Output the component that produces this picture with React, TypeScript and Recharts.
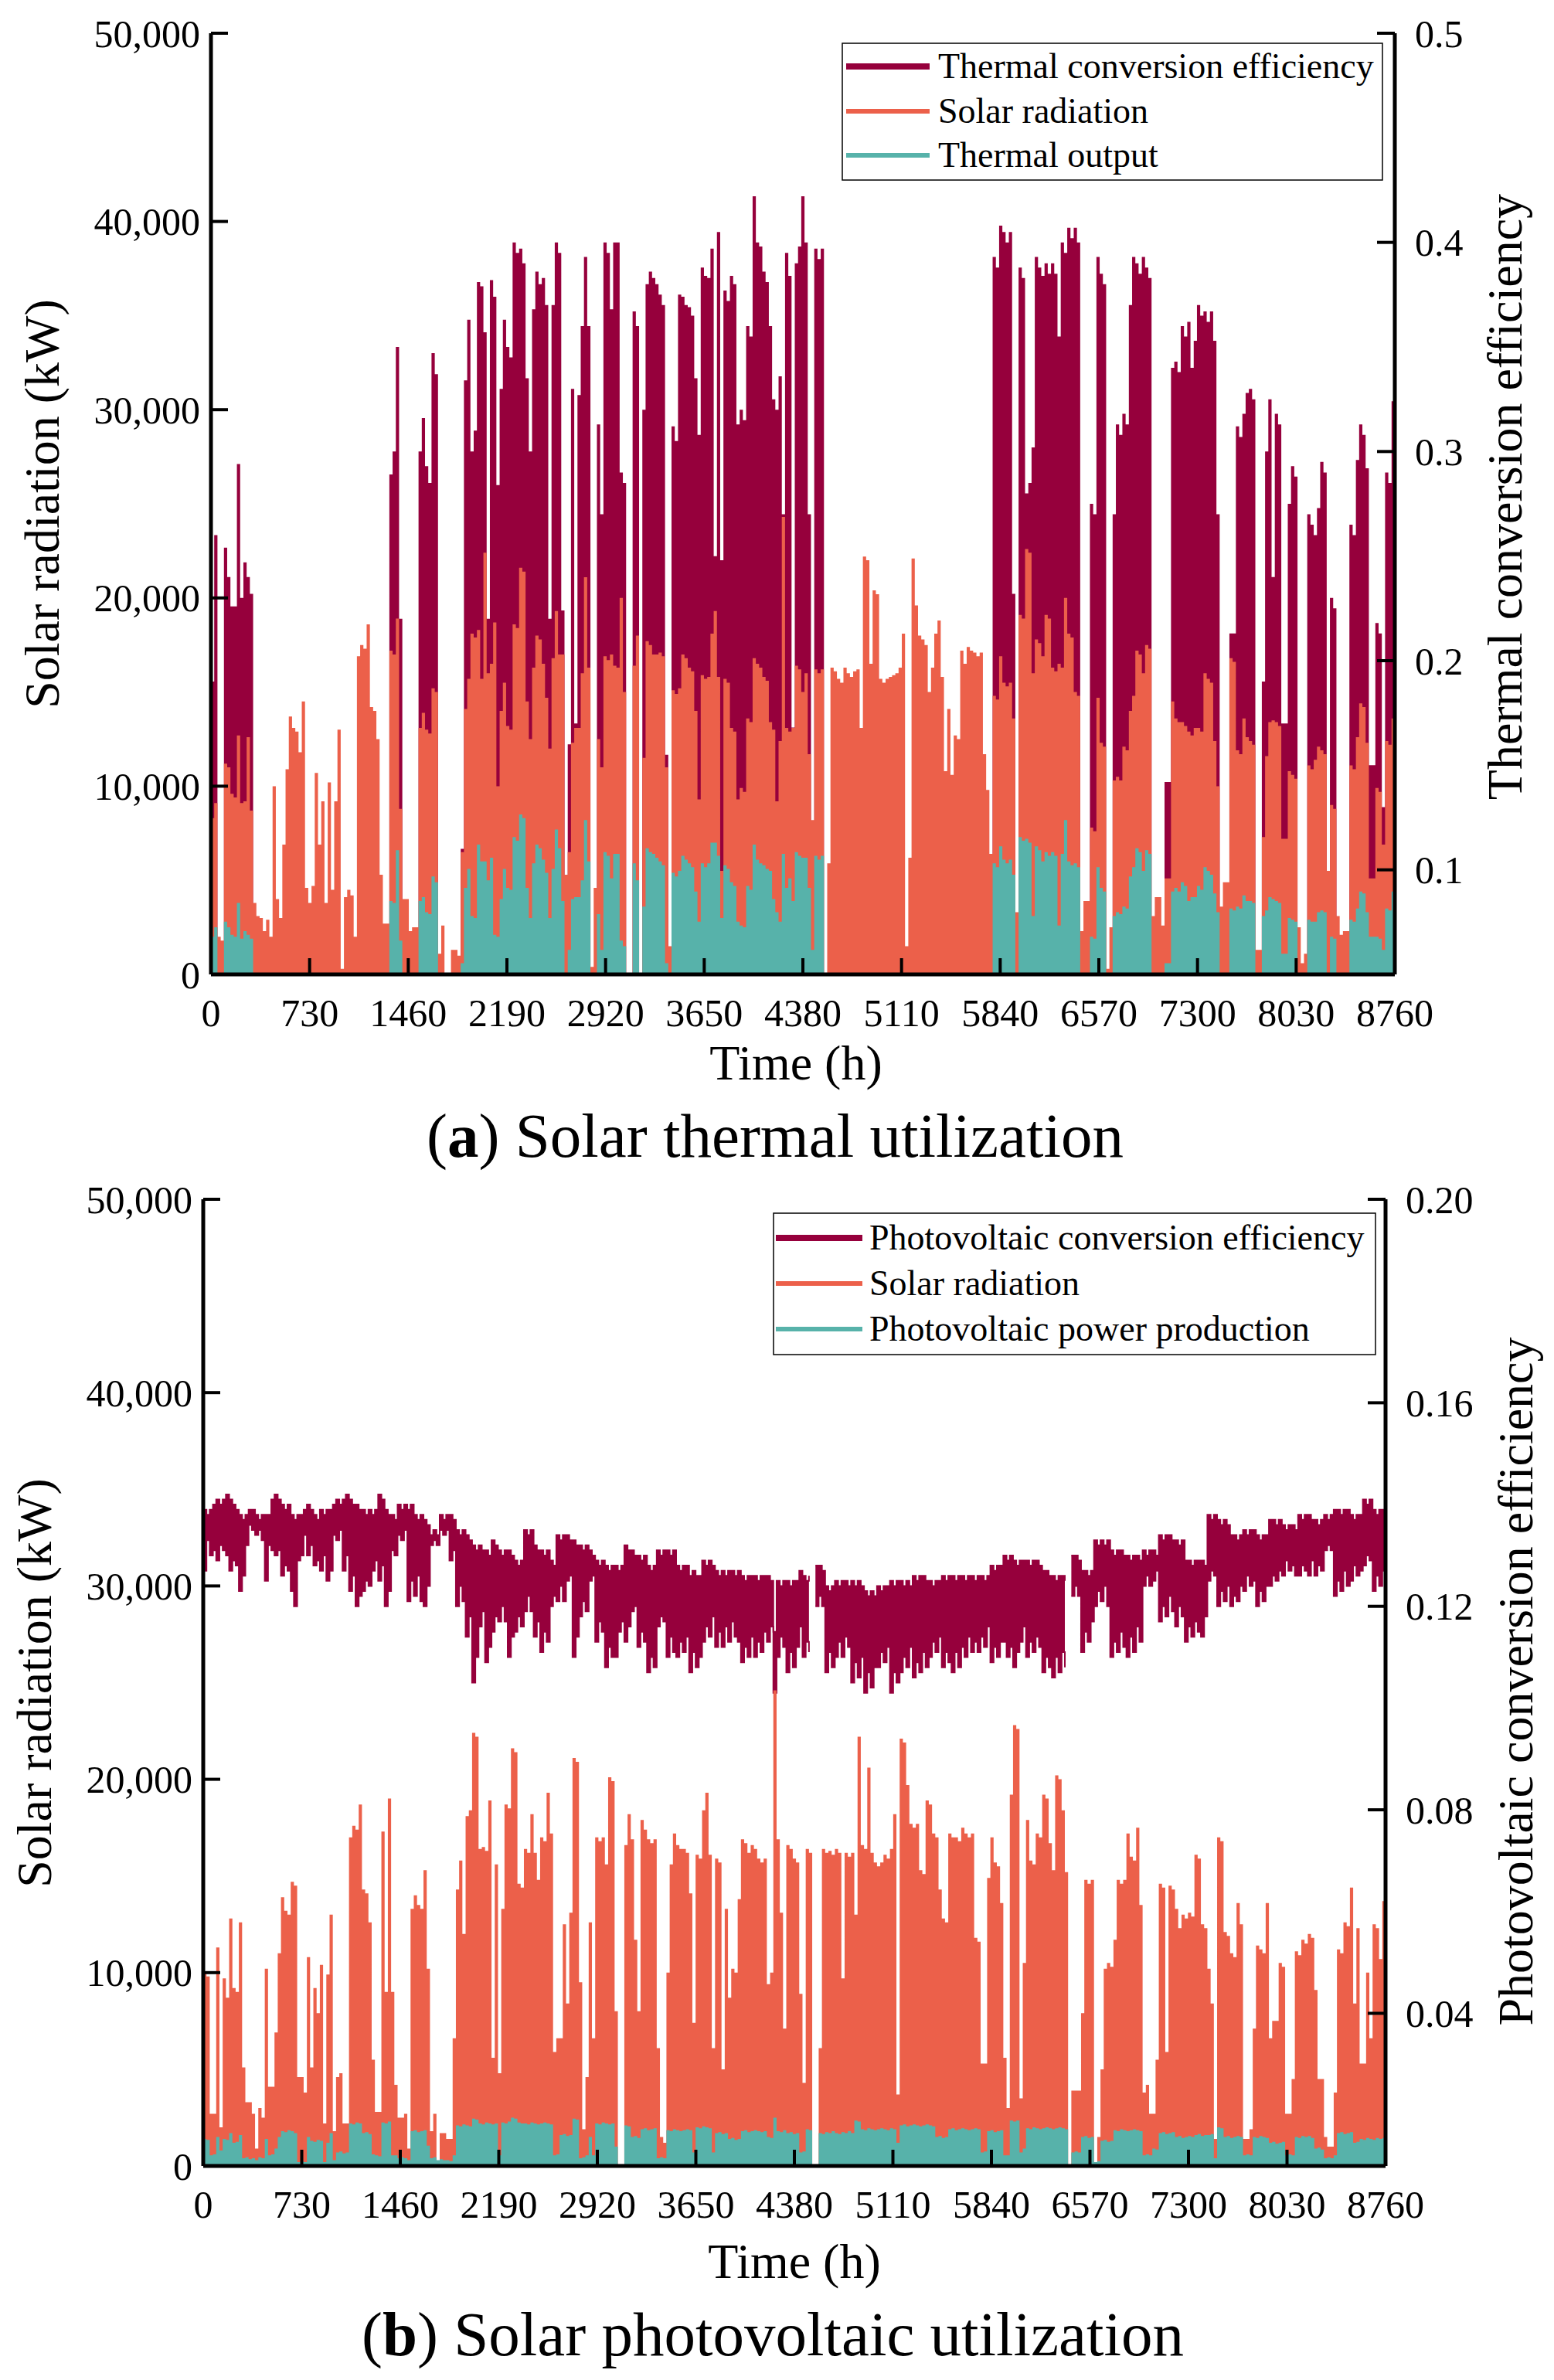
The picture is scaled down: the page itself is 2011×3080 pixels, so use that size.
import { Area, ComposedChart, XAxis, YAxis } from 'recharts'

const FONT = '"Liberation Serif", "Times New Roman", Times, serif'
const MAROON = '#96003C'
const ORANGE = '#EC604A'
const TEAL = '#57B2AA'
const AXIS = { stroke: '#000', strokeWidth: 5 }

const hourTicks = [0, 730, 1460, 2190, 2920, 3650, 4380, 5110, 5840, 6570, 7300, 8030, 8760]
const radiationTicks = [0, 10000, 20000, 30000, 40000, 50000]
const thermalEffTicks = [0.1, 0.2, 0.3, 0.4, 0.5]
const pvEffTicks = [0.04, 0.08, 0.12, 0.16, 0.2]

// (a) one value per day
const thermalEfficiency = [
  0.19, 0.26, 0, 0, 0.254, 0.24, 0.226, 0.226, 0.294, 0.23,
  0.247, 0.24, 0.232, 0, 0, 0, 0, 0, 0, 0,
  0, 0, 0, 0, 0, 0, 0, 0, 0, 0,
  0, 0, 0, 0, 0, 0, 0, 0, 0, 0,
  0, 0, 0, 0, 0, 0, 0, 0, 0, 0,
  0, 0, 0, 0, 0, 0.289, 0.3, 0.35, 0.22, 0,
  0, 0, 0, 0, 0.3, 0.316, 0.293, 0.285, 0.347, 0.337,
  0, 0, 0, 0, 0, 0, 0, 0.11, 0.334, 0.363,
  0.3, 0.31, 0.381, 0.379, 0.357, 0.22, 0.382, 0.374, 0.284, 0.33,
  0.363, 0.35, 0.345, 0.4, 0.395, 0.397, 0.39, 0.335, 0.3, 0.368,
  0.386, 0.38, 0.383, 0.37, 0.22, 0.37, 0.4, 0.395, 0.224, 0.06,
  0.16, 0.33, 0.17, 0.327, 0.36, 0.393, 0.36, 0, 0, 0.313,
  0.27, 0.4, 0.395, 0.368, 0.4, 0.4, 0.29, 0.285, 0, 0,
  0.367, 0.36, 0, 0.32, 0.38, 0.386, 0.383, 0.38, 0.375, 0.37,
  0.155, 0, 0.312, 0.305, 0.375, 0.374, 0.37, 0.369, 0.365, 0.335,
  0.308, 0.388, 0.384, 0.383, 0.397, 0.25, 0.405, 0.248, 0.377, 0.372,
  0.384, 0.38, 0.313, 0.32, 0.315, 0.36, 0.355, 0.422, 0.4, 0.398,
  0.386, 0.381, 0.36, 0.325, 0.32, 0.336, 0.27, 0.395, 0.384, 0.168,
  0.39, 0.398, 0.422, 0.4, 0.27, 0.12, 0.397, 0.392, 0.397, 0,
  0, 0, 0, 0, 0, 0, 0, 0, 0, 0,
  0, 0, 0, 0, 0, 0, 0, 0, 0, 0,
  0, 0, 0, 0, 0, 0, 0, 0, 0, 0,
  0, 0, 0, 0, 0, 0, 0, 0, 0, 0,
  0, 0, 0, 0, 0, 0, 0, 0, 0, 0,
  0, 0.393, 0.388, 0.408, 0.405, 0.4, 0.405, 0.232, 0, 0.388,
  0.383, 0.28, 0.285, 0.302, 0.393, 0.388, 0.384, 0.39, 0.385, 0.39,
  0.385, 0.355, 0.4, 0.395, 0.407, 0.402, 0.407, 0.4, 0, 0,
  0, 0.275, 0.27, 0.393, 0.385, 0.38, 0, 0, 0.27, 0.313,
  0.308, 0.318, 0.313, 0.37, 0.393, 0.39, 0.385, 0.393, 0.388, 0.383,
  0, 0, 0, 0, 0.142, 0.142, 0.34, 0.343, 0.338, 0.36,
  0.355, 0.362, 0.34, 0.353, 0.37, 0.365, 0.367, 0.362, 0.367, 0.353,
  0.27, 0, 0, 0, 0.213, 0.213, 0.312, 0.307, 0.318, 0.328,
  0.33, 0.325, 0, 0, 0.19, 0.3, 0.325, 0.24, 0.318, 0.313,
  0.17, 0.17, 0.275, 0.293, 0.288, 0, 0, 0, 0.27, 0.265,
  0.26, 0.273, 0.295, 0.29, 0, 0.23, 0.225, 0, 0, 0,
  0, 0.265, 0.26, 0.296, 0.313, 0.308, 0.292, 0.15, 0.15, 0.218,
  0.213, 0.13, 0.29, 0.285, 0.324,
]

const thermalRadiation = [
  8300, 9100, 2000, 1800, 11200, 11000, 9600, 9400, 12700, 9100,
  9200, 12600, 8700, 3800, 3100, 3000, 2300, 2900, 2000, 10000,
  4000, 3000, 6900, 10900, 13700, 13100, 12900, 11800, 14500, 4600,
  3800, 4700, 10700, 6900, 9200, 3800, 10200, 4500, 9200, 13000,
  300, 4100, 4500, 4200, 2000, 16900, 17500, 17300, 18600, 14200,
  14000, 12500, 5300, 2700, 2700, 17200, 17000, 18900, 8800, 4000,
  4000, 2300, 2500, 2500, 13100, 13900, 13000, 12800, 15200, 15000,
  1100, 2600, 0, 0, 1300, 1300, 1000, 6500, 14100, 15700,
  18100, 17900, 18300, 15700, 22400, 16000, 16500, 18700, 10000, 14000,
  15500, 13200, 13000, 18600, 18400, 21600, 21400, 14500, 12500, 16300,
  18000, 17800, 16500, 14700, 12000, 16800, 19300, 17000, 17000, 5300,
  6500, 12300, 13100, 13100, 16000, 21100, 16300, 400, 4600, 12500,
  11000, 16900, 16700, 17000, 16400, 16300, 20000, 15000, 0, 0,
  16400, 18000, 0, 11500, 17700, 17500, 17000, 17000, 17100, 16900,
  11000, 1500, 15100, 14900, 15200, 17000, 16800, 16300, 16100, 14000,
  9300, 15900, 15700, 15800, 18100, 19300, 15800, 5500, 15700, 15500,
  13100, 12900, 9300, 9900, 9700, 13600, 13400, 16800, 16500, 16300,
  15800, 15600, 13400, 13000, 9200, 12400, 24300, 13100, 12900, 13100,
  16400, 16200, 15000, 16000, 11700, 8200, 16200, 16000, 16200, 0,
  5900, 16300, 16100, 15700, 15500, 16300, 16000, 15800, 16100, 16200,
  13100, 22200, 22000, 16500, 20400, 20200, 15700, 15500, 15700, 15800,
  15900, 16000, 16300, 18100, 1500, 6200, 22100, 19600, 18000, 17800,
  17500, 15000, 16300, 18100, 18800, 15800, 10800, 14100, 10600, 12700,
  12500, 17200, 16500, 17400, 17200, 17100, 16900, 17100, 11700, 9800,
  6400, 14800, 14600, 16900, 15500, 15300, 15500, 13600, 3300, 19100,
  18900, 22600, 22400, 16000, 17800, 17600, 16900, 19100, 18900, 16300,
  16100, 16500, 16300, 20000, 18100, 17900, 15000, 14800, 2300, 3900,
  3900, 7800, 7600, 14700, 12300, 12100, 300, 2500, 10300, 10500,
  10300, 12100, 11900, 14000, 14800, 17200, 17000, 16000, 17500, 17300,
  3100, 4100, 4100, 2600, 5100, 5100, 14500, 13600, 13400, 13400,
  13200, 12900, 12700, 13100, 13100, 12900, 16000, 15700, 15500, 12400,
  10000, 3600, 4900, 4900, 16800, 16600, 11900, 11700, 13600, 12600,
  12400, 12200, 1300, 1300, 7300, 11600, 13400, 13500, 13400, 13200,
  7200, 7200, 10800, 10600, 10400, 2500, 600, 1100, 11100, 10900,
  11400, 12100, 11900, 11700, 5500, 9000, 8800, 3100, 2100, 2300,
  2300, 11100, 10900, 12600, 14400, 14200, 12300, 5100, 5100, 9900,
  9700, 6900, 12400, 12200, 13600,
]

const thermalOutput = [
  2000, 2500, 0, 0, 2800, 2500, 2100, 2000, 3800, 1900,
  2300, 2100, 1900, 0, 0, 0, 0, 0, 0, 0,
  0, 0, 0, 0, 0, 0, 0, 0, 0, 0,
  0, 0, 0, 0, 0, 0, 0, 0, 0, 0,
  0, 0, 0, 0, 0, 0, 0, 0, 0, 0,
  0, 0, 0, 0, 0, 3900, 3800, 6600, 1800, 0,
  0, 0, 0, 0, 3900, 4100, 3300, 3200, 5200, 4900,
  0, 0, 0, 0, 0, 0, 0, 600, 4600, 5600,
  3100, 3000, 6900, 6000, 6000, 5000, 6200, 2100, 2000, 4000,
  5600, 4600, 4500, 7300, 7100, 8500, 8300, 4600, 3000, 5900,
  6900, 6700, 6100, 5400, 3000, 5600, 7700, 6700, 3900, 0,
  1300, 4000, 4100, 4100, 5000, 8200, 6000, 0, 0, 3200,
  1300, 6500, 6300, 5100, 6400, 6400, 1800, 1500, 0, 0,
  5900, 5000, 0, 3600, 6700, 6500, 6400, 6200, 6000, 5800,
  600, 0, 5400, 5200, 5500, 6300, 6100, 5900, 5700, 4400,
  2800, 5900, 5700, 5900, 7000, 7000, 6300, 3000, 5800, 5600,
  4900, 4700, 2800, 2600, 2500, 4700, 4500, 6900, 6100, 5900,
  5800, 5600, 5500, 4000, 3300, 2800, 6400, 4600, 5100, 3900,
  6500, 6300, 6200, 6200, 4600, 1300, 6300, 6100, 6300, 0,
  0, 0, 0, 0, 0, 0, 0, 0, 0, 0,
  0, 0, 0, 0, 0, 0, 0, 0, 0, 0,
  0, 0, 0, 0, 0, 0, 0, 0, 0, 0,
  0, 0, 0, 0, 0, 0, 0, 0, 0, 0,
  0, 0, 0, 0, 0, 0, 0, 0, 0, 0,
  0, 5900, 5700, 6800, 6100, 5900, 6100, 5300, 0, 7300,
  7100, 7200, 7000, 3100, 6800, 6600, 6000, 6500, 6300, 6500,
  6300, 2600, 6400, 8200, 6000, 5800, 5900, 5700, 0, 0,
  0, 2000, 1900, 5700, 4600, 4400, 0, 0, 3100, 3300,
  3200, 3600, 3500, 5200, 5700, 6700, 6500, 5500, 6600, 6400,
  0, 0, 0, 0, 600, 600, 4400, 4600, 4400, 4900,
  4700, 3900, 4100, 4100, 4700, 4500, 5700, 5500, 5300, 4300,
  3300, 0, 0, 0, 3500, 3400, 3600, 3500, 4200, 3900,
  3900, 3800, 0, 0, 3100, 3400, 4100, 4000, 3900, 3800,
  1100, 1100, 3000, 2900, 2800, 0, 0, 0, 2900, 2800,
  2800, 3300, 3400, 3300, 0, 2000, 1900, 0, 0, 0,
  0, 2900, 2800, 3500, 4400, 4300, 3300, 2000, 2000, 2000,
  1900, 1300, 3500, 3400, 4400,
]

// (b) one value per day
const pvRadiation = [
  10000, 9800, 2700, 2700, 11300, 2000, 9700, 8700, 12800, 9200,
  9000, 12600, 5100, 3300, 3300, 2700, 900, 3000, 2500, 10200,
  4100, 4100, 6900, 11000, 13900, 13200, 13000, 14700, 14500, 4600,
  4600, 3800, 10800, 5100, 9200, 7900, 10400, 2200, 9900, 13000,
  1800, 4600, 4800, 2200, 2200, 17000, 17600, 17400, 18700, 14300,
  14100, 12600, 5500, 2800, 2800, 17300, 9000, 19000, 9000, 4200,
  2500, 2500, 2700, 900, 13300, 14000, 13500, 13300, 15300, 10200,
  1800, 2700, 200, 1700, 1700, 1400, 1400, 6600, 14300, 15800,
  12000, 18100, 18400, 22400, 22200, 16400, 16500, 16300, 18900, 5600,
  15600, 4800, 13300, 18700, 18500, 21600, 21400, 14600, 14400, 16400,
  16200, 18200, 16200, 14800, 17000, 16800, 19300, 17200, 5900, 6600,
  6600, 12500, 8400, 13100, 21100, 20900, 9500, 1900, 4600, 12600,
  6600, 17000, 16800, 17000, 15600, 20100, 19900, 8000, 0, 0,
  16600, 18200, 16900, 11700, 8000, 17900, 17400, 16900, 16700, 16900,
  6100, 1500, 1200, 10000, 15600, 17200, 16600, 16400, 16400, 16200,
  14100, 7400, 16100, 15900, 18400, 19300, 16100, 6100, 15900, 15700,
  5000, 13300, 8700, 10200, 10000, 13800, 16900, 16700, 16200, 16600,
  16400, 15900, 15700, 15900, 9400, 10000, 24600, 16900, 13100, 7100,
  16600, 16400, 15900, 15700, 8900, 4300, 16400, 16200, 0, 0,
  6100, 16400, 16200, 16300, 16100, 16400, 16200, 9700, 16200, 16000,
  16200, 13000, 22200, 16600, 16400, 20600, 16200, 15700, 15500, 15700,
  16100, 15900, 16400, 18200, 3700, 22100, 21900, 19700, 17700, 17500,
  17700, 15300, 15100, 18900, 18700, 17200, 17000, 14300, 12800, 12600,
  17200, 17000, 17000, 16800, 17500, 17200, 17000, 17200, 11800, 11600,
  5300, 5300, 14900, 17000, 15700, 15500, 13600, 5600, 3000, 19200,
  22800, 22600, 3500, 10500, 17900, 15800, 15600, 17200, 17000, 19200,
  19000, 16700, 15300, 20200, 20000, 18400, 15200, 0, 3900, 3900,
  3900, 7900, 14800, 14600, 14800, 200, 1500, 5000, 10200, 10500,
  10300, 11700, 14800, 14600, 14800, 17200, 16000, 15800, 17500, 13500,
  3800, 4200, 2700, 2700, 5500, 14600, 14400, 5900, 14500, 14300,
  13300, 12300, 13000, 12800, 13100, 12900, 16100, 15900, 12500, 12300,
  10200, 8400, 1400, 17000, 16800, 12100, 11900, 11000, 10800, 13600,
  12500, 1400, 1400, 1900, 7100, 11400, 11200, 11000, 13600, 6600,
  7500, 7500, 10500, 10300, 2700, 2700, 4500, 11100, 10900, 11700,
  11500, 12000, 11800, 9100, 4500, 4500, 1500, 1000, 1000, 3800,
  11200, 11000, 12600, 12400, 14400, 8400, 12300, 5300, 5300, 10000,
  6600, 12500, 12300, 10700, 13700,
]

const pvOutput = [
  1400, 1350, 550, 600, 1500, 800, 1400, 1350, 1700, 1200,
  1250, 1600, 400, 450, 350, 400, 300, 450, 400, 1400,
  550, 600, 900, 1500, 1800, 1750, 1850, 1800, 1700, 200,
  250, 200, 1500, 1300, 1250, 1350, 1300, 200, 1200, 1700,
  300, 700, 750, 650, 700, 2200, 2150, 2250, 2200, 1700,
  1750, 1650, 600, 550, 500, 2250, 2200, 2300, 550, 550,
  400, 450, 400, 300, 1800, 1850, 1750, 1800, 1850, 1050,
  400, 450, 300, 350, 300, 300, 250, 550, 2100, 2050,
  2150, 2100, 2050, 2450, 2400, 2200, 2150, 2250, 2200, 2150,
  2200, 550, 2250, 2200, 2300, 2500, 2450, 2250, 2200, 2200,
  2150, 2250, 2200, 2150, 2200, 2250, 2200, 2150, 550, 600,
  1600, 1650, 1550, 1600, 2450, 2400, 400, 450, 550, 1500,
  550, 2200, 2150, 2250, 2200, 2150, 2200, 1000, 0, 0,
  2100, 2050, 1500, 1550, 1450, 1900, 1950, 1850, 1900, 1950,
  400, 450, 400, 1850, 1800, 1900, 1850, 1800, 1850, 1900,
  1850, 700, 2000, 1950, 2050, 2000, 1950, 700, 1700, 1750,
  1650, 1700, 1400, 1450, 1350, 1400, 1800, 1850, 1750, 1800,
  1850, 1800, 1750, 1800, 1500, 1450, 2500, 1800, 1750, 1850,
  1700, 1750, 1650, 1700, 700, 750, 1900, 1850, 0, 0,
  1700, 1650, 1750, 1700, 1800, 1700, 1650, 1750, 1700, 1800,
  1700, 2350, 2300, 1900, 1850, 1950, 1900, 1850, 1900, 1950,
  1900, 1850, 1950, 1900, 1200, 2100, 2150, 2050, 2100, 2150,
  2100, 2050, 2100, 2150, 2100, 2050, 1500, 1550, 1450, 1500,
  1900, 1950, 1850, 1900, 1950, 1900, 1850, 1900, 1950, 1900,
  700, 750, 1800, 1850, 1750, 1800, 1850, 550, 550, 2350,
  2300, 2350, 700, 900, 1950, 1900, 2000, 1950, 1900, 1950,
  2000, 1950, 1900, 1950, 2000, 1950, 1900, 0, 700, 750,
  700, 1500, 1550, 1450, 1500, 200, 250, 1300, 1350, 1250,
  1300, 1850, 1800, 1900, 1850, 1800, 1850, 1900, 1850, 1800,
  550, 600, 550, 900, 850, 1700, 1750, 1650, 1700, 1750,
  1500, 1550, 1450, 1500, 1550, 1500, 1600, 1650, 1550, 1600,
  1600, 1650, 400, 2000, 1950, 1500, 1550, 1450, 1500, 1550,
  1500, 550, 600, 550, 1500, 1450, 1550, 1500, 1450, 1200,
  1250, 1150, 1200, 1250, 550, 600, 550, 1500, 1450, 1550,
  1500, 1550, 1450, 900, 950, 850, 400, 450, 400, 550,
  1700, 1750, 1650, 1700, 1750, 1200, 1250, 1400, 1350, 1450,
  1400, 1350, 1450, 1400, 1450,
]

const pvEffHigh: (number | null)[] = [
  0.139, 0.138, 0.139, 0.14, 0.141, 0.14, 0.141, 0.142, 0.141, 0.14,
  0.139, 0.138, 0.137, 0.138, 0.139, 0.139, 0.138, 0.137, 0.138, 0.138,
  0.138, 0.141, 0.142, 0.141, 0.14, 0.139, 0.14, 0.138, 0.137, 0.138,
  0.138, 0.139, 0.14, 0.139, 0.138, 0.137, 0.139, 0.138, 0.139, 0.139,
  0.14, 0.141, 0.14, 0.141, 0.142, 0.141, 0.14, 0.14, 0.139, 0.139,
  0.138, 0.139, 0.138, 0.139, 0.142, 0.141, 0.139, 0.138, 0.138, 0.137,
  0.14, 0.139, 0.14, 0.139, 0.14, 0.138, 0.137, 0.138, 0.137, 0.136,
  0.134, 0.135, 0.134, 0.138, 0.137, 0.138, 0.138, 0.137, 0.135, 0.134,
  0.135, 0.134, 0.133, 0.132, 0.131, 0.132, 0.131, 0.131, 0.13, 0.133,
  0.132, 0.131, 0.13, 0.131, 0.131, 0.13, 0.129, 0.128, 0.129, 0.135,
  0.134, 0.135, 0.132, 0.131, 0.131, 0.13, 0.131, 0.129, 0.128, 0.134,
  0.133, 0.134, 0.134, 0.133, 0.133, 0.132, 0.132, 0.131, 0.132, 0.131,
  0.13, 0.129, 0.128, 0.129, 0.128, 0.127, 0.128, 0.128, 0.127, 0.128,
  0.132, 0.131, 0.131, 0.13, 0.13, 0.129, 0.13, 0.128, 0.127, 0.128,
  0.131, 0.13, 0.131, 0.131, 0.13, 0.131, 0.128, 0.127, 0.128, 0.128,
  0.126, 0.127, 0.126, 0.126, 0.129, 0.128, 0.129, 0.128, 0.127, 0.126,
  0.127, 0.126, 0.127, 0.127, 0.126, 0.127, 0.126, 0.125, 0.126, 0.126,
  0.126, 0.125, 0.126, 0.126, 0.126, 0.125, 0.115, 0.125, 0.124, 0.125,
  0.125, 0.124, 0.125, 0.125, 0.127, 0.126, 0.125, 0.126, null, 0.128,
  0.128, 0.127, 0.124, 0.123, 0.124, 0.125, 0.124, 0.125, 0.125, 0.124,
  0.125, 0.124, 0.125, 0.124, 0.123, 0.122, 0.123, 0.122, 0.124, 0.123,
  0.124, 0.124, 0.125, 0.124, 0.125, 0.125, 0.124, 0.125, 0.124, 0.126,
  0.125, 0.126, 0.126, 0.125, 0.125, 0.124, 0.125, 0.125, 0.126, 0.125,
  0.126, 0.126, 0.125, 0.126, 0.126, 0.125, 0.126, 0.126, 0.125, 0.126,
  0.126, 0.125, 0.126, 0.128, 0.127, 0.128, 0.128, 0.13, 0.129, 0.13,
  0.129, 0.128, 0.129, 0.129, 0.129, 0.128, 0.129, 0.129, 0.128, 0.127,
  0.127, 0.126, 0.126, 0.125, 0.126, 0.126, 0.125, null, 0.13, 0.13,
  0.129, 0.127, 0.127, 0.126, 0.127, 0.133, 0.132, 0.133, 0.132, 0.133,
  0.131, 0.13, 0.131, 0.131, 0.13, 0.13, 0.129, 0.13, 0.13, 0.129,
  0.131, 0.13, 0.131, 0.131, 0.13, 0.134, 0.133, 0.134, 0.134, 0.133,
  0.133, 0.132, 0.133, 0.129, 0.129, 0.128, 0.129, 0.129, 0.129, 0.128,
  0.138, 0.137, 0.138, 0.137, 0.136, 0.137, 0.136, 0.134, 0.134, 0.133,
  0.134, 0.135, 0.134, 0.135, 0.135, 0.134, 0.133, 0.134, 0.134, 0.137,
  0.137, 0.136, 0.137, 0.136, 0.135, 0.136, 0.136, 0.135, 0.138, 0.137,
  0.138, 0.138, 0.137, 0.137, 0.136, 0.137, 0.138, 0.137, 0.138, 0.139,
  0.139, 0.138, 0.139, 0.139, 0.138, 0.137, 0.138, 0.138, 0.141, 0.14,
  0.141, 0.139, 0.138, 0.139, 0.139,
]

const pvEffLow: (number | null)[] = [
  0.127, 0.133, 0.13, 0.131, 0.129, 0.132, 0.131, 0.13, 0.127, 0.129,
  0.128, 0.123, 0.126, 0.132, 0.136, 0.135, 0.134, 0.135, 0.133, 0.125,
  0.132, 0.131, 0.13, 0.131, 0.126, 0.128, 0.127, 0.123, 0.12, 0.129,
  0.13, 0.134, 0.13, 0.132, 0.128, 0.129, 0.127, 0.13, 0.125, 0.127,
  0.134, 0.133, 0.135, 0.127, 0.13, 0.123, 0.126, 0.12, 0.122, 0.123,
  0.125, 0.124, 0.127, 0.129, 0.125, 0.128, 0.12, 0.123, 0.131, 0.13,
  0.134, 0.133, 0.135, 0.121, 0.125, 0.122, 0.126, 0.121, 0.12, 0.124,
  0.132, 0.133, 0.132, 0.135, 0.134, 0.135, 0.129, 0.131, 0.12, 0.124,
  0.121, 0.114, 0.118, 0.105, 0.11, 0.116, 0.119, 0.109, 0.112, 0.115,
  0.118, 0.117, 0.12, 0.117, 0.11, 0.114, 0.115, 0.118, 0.116, 0.119,
  0.122, 0.119, 0.114, 0.117, 0.111, 0.115, 0.113, 0.12, 0.122, 0.121,
  0.124, 0.121, 0.125, 0.126, 0.11, 0.114, 0.118, 0.121, 0.119, 0.125,
  0.126, 0.113, 0.117, 0.115, 0.108, 0.112, 0.11, 0.11, 0.115, 0.117,
  0.113, 0.116, 0.119, 0.12, 0.112, 0.115, 0.113, 0.107, 0.11, 0.108,
  0.116, 0.118, 0.117, 0.11, 0.114, 0.111, 0.11, 0.113, 0.111, 0.114,
  0.107, 0.111, 0.108, 0.11, 0.113, 0.116, 0.114, 0.118, 0.112, 0.115,
  0.112, 0.116, 0.113, 0.117, 0.114, 0.113, 0.109, 0.112, 0.11, 0.114,
  0.11, 0.113, 0.111, 0.115, 0.113, 0.116, 0.103, 0.11, 0.114, 0.112,
  0.107, 0.111, 0.108, 0.112, 0.116, 0.11, 0.113, 0.111, null, 0.12,
  0.122, 0.12, 0.107, 0.111, 0.108, 0.11, 0.113, 0.11, 0.114, 0.112,
  0.105, 0.109, 0.106, 0.11, 0.103, 0.107, 0.104, 0.108, 0.108, 0.111,
  0.109, 0.112, 0.103, 0.107, 0.105, 0.107, 0.11, 0.108, 0.112, 0.106,
  0.109, 0.107, 0.111, 0.108, 0.11, 0.113, 0.111, 0.114, 0.108, 0.111,
  0.109, 0.107, 0.111, 0.108, 0.112, 0.11, 0.114, 0.111, 0.113, 0.111,
  0.114, 0.112, 0.116, 0.109, 0.112, 0.11, 0.113, 0.113, 0.11, 0.112,
  0.108, 0.111, 0.113, 0.116, 0.11, 0.113, 0.111, 0.114, 0.112, 0.107,
  0.11, 0.108, 0.106, 0.11, 0.107, 0.111, 0.108, null, 0.122, 0.124,
  0.122, 0.111, 0.115, 0.113, 0.117, 0.12, 0.123, 0.121, 0.124, 0.12,
  0.11, 0.113, 0.111, 0.115, 0.112, 0.11, 0.114, 0.111, 0.116, 0.113,
  0.124, 0.126, 0.124, 0.125, 0.127, 0.117, 0.12, 0.118, 0.122, 0.119,
  0.116, 0.12, 0.118, 0.113, 0.116, 0.114, 0.117, 0.115, 0.114, 0.118,
  0.125, 0.127, 0.126, 0.12, 0.123, 0.121, 0.124, 0.12, 0.122, 0.121,
  0.124, 0.123, 0.126, 0.124, 0.125, 0.12, 0.123, 0.121, 0.124, 0.124,
  0.126, 0.125, 0.127, 0.126, 0.129, 0.127, 0.128, 0.126, 0.126, 0.128,
  0.127, 0.126, 0.129, 0.126, 0.128, 0.127, 0.131, 0.132, 0.131, 0.122,
  0.125, 0.123, 0.127, 0.124, 0.125, 0.128, 0.126, 0.127, 0.128, 0.13,
  0.129, 0.123, 0.126, 0.124, 0.127,
]

const DAYS = 365

// stepAfter needs a closing point at 8760 h, so the last day is repeated once
const thermalRows = Array.from({ length: DAYS + 1 }, (_, i) => {
  const d = Math.min(i, DAYS - 1)
  return { h: i * 24, eff: thermalEfficiency[d], rad: thermalRadiation[d], out: thermalOutput[d] }
})

const pvRows = Array.from({ length: DAYS + 1 }, (_, i) => {
  const d = Math.min(i, DAYS - 1)
  const hi = pvEffHigh[d]
  const lo = pvEffLow[d]
  return { h: i * 24, eff: hi == null || lo == null ? null : [lo, hi], rad: pvRadiation[d], out: pvOutput[d] }
})

const textStyle = { fontFamily: FONT, fill: '#000' }

function LeftTick(props: any) {
  const { x, y, payload } = props
  return (
    <g>
      <line x1={x} x2={x + 22} y1={y} y2={y} stroke="#000" strokeWidth={4} />
      <text x={x - 14} y={y} dy="0.35em" textAnchor="end" fontSize={50} {...textStyle}>
        {Number(payload.value).toLocaleString('en-US')}
      </text>
    </g>
  )
}

function rightTick(digits: number) {
  return function RightTick(props: any) {
    const { x, y, payload } = props
    return (
      <g>
        <line x1={x} x2={x - 23} y1={y} y2={y} stroke="#000" strokeWidth={4} />
        <text x={x + 26} y={y} dy="0.35em" textAnchor="start" fontSize={50} {...textStyle}>
          {Number(payload.value).toFixed(digits)}
        </text>
      </g>
    )
  }
}

function BottomTick(props: any) {
  const { x, y, payload } = props
  return (
    <g>
      <line x1={x} x2={x} y1={y} y2={y - 21} stroke="#000" strokeWidth={4} />
      <text x={x} y={y + 67} textAnchor="middle" fontSize={50} {...textStyle}>
        {payload.value}
      </text>
    </g>
  )
}

type LegendBox = { x: number; y: number; w: number; h: number; rows: number[]; lineX: [number, number]; textX: number }

function LegendSvg({ box, labels }: { box: LegendBox; labels: string[] }) {
  const colors = [MAROON, ORANGE, TEAL]
  const widths = [8, 6, 6]
  return (
    <g>
      <rect x={box.x} y={box.y} width={box.w} height={box.h} fill="#fff" stroke="#000" strokeWidth={1.5} />
      {labels.map((label, i) => (
        <g key={label}>
          <line x1={box.lineX[0]} x2={box.lineX[1]} y1={box.rows[i]} y2={box.rows[i]} stroke={colors[i]} strokeWidth={widths[i]} />
          <text x={box.textX} y={box.rows[i] + 15} fontSize={46} {...textStyle}>
            {label}
          </text>
        </g>
      ))}
    </g>
  )
}

function areaProps(color: string) {
  return {
    type: 'stepAfter' as const,
    fill: color,
    fillOpacity: 1,
    stroke: 'none',
    dot: false,
    activeDot: false,
    isAnimationActive: false,
  }
}

export default function App() {
  return (
    <div style={{ position: 'absolute', left: 0, top: 0, width: 2011, height: 3080, background: '#fff' }}>
      {/* (a) Solar thermal utilization: plot 273..1805 x 43..1261 */}
      <div style={{ position: 'absolute', left: 0, top: 0 }}>
        <ComposedChart width={2011} height={1480} data={thermalRows} margin={{ top: 43, right: 0, bottom: 0, left: 0 }}>
          <Area yAxisId="right" dataKey="eff" {...areaProps(MAROON)} />
          <Area yAxisId="left" dataKey="rad" {...areaProps(ORANGE)} />
          <Area yAxisId="left" dataKey="out" {...areaProps(TEAL)} />
          <XAxis
            dataKey="h"
            type="number"
            domain={[0, 8760]}
            ticks={hourTicks}
            interval={0}
            height={219}
            tickSize={0}
            tickMargin={0}
            tickLine={false}
            tick={BottomTick}
            axisLine={AXIS}
            allowDataOverflow
          />
          <XAxis xAxisId="top" orientation="top" dataKey="h" type="number" domain={[0, 8760]} height={0} tick={false} tickLine={false} axisLine={{ stroke: '#000', strokeWidth: 4 }} />
          <YAxis
            yAxisId="left"
            width={273}
            domain={[0, 50000]}
            ticks={radiationTicks}
            interval={0}
            tickSize={0}
            tickMargin={0}
            tickLine={false}
            tick={LeftTick}
            axisLine={AXIS}
            allowDataOverflow
          />
          <YAxis
            yAxisId="right"
            orientation="right"
            width={206}
            domain={[0.05, 0.5]}
            ticks={thermalEffTicks}
            interval={0}
            tickSize={0}
            tickMargin={0}
            tickLine={false}
            tick={rightTick(1)}
            axisLine={AXIS}
            allowDataOverflow
          />
        </ComposedChart>
      </div>

      {/* (b) Solar photovoltaic utilization: plot 263..1793 x 1552..2803 */}
      <div style={{ position: 'absolute', left: 0, top: 1480 }}>
        <ComposedChart width={2011} height={1580} data={pvRows} margin={{ top: 72, right: 0, bottom: 0, left: 0 }}>
          <Area yAxisId="right" dataKey="eff" {...areaProps(MAROON)} stroke={MAROON} strokeWidth={2} />
          <Area yAxisId="left" dataKey="rad" {...areaProps(ORANGE)} />
          <Area yAxisId="left" dataKey="out" {...areaProps(TEAL)} />
          <XAxis
            dataKey="h"
            type="number"
            domain={[0, 8760]}
            ticks={hourTicks}
            interval={0}
            height={257}
            tickSize={0}
            tickMargin={0}
            tickLine={false}
            tick={BottomTick}
            axisLine={AXIS}
            allowDataOverflow
          />
          <XAxis xAxisId="top" orientation="top" dataKey="h" type="number" domain={[0, 8760]} height={0} tick={false} tickLine={false} axisLine={{ stroke: '#000', strokeWidth: 4 }} />
          <YAxis
            yAxisId="left"
            width={263}
            domain={[0, 50000]}
            ticks={radiationTicks}
            interval={0}
            tickSize={0}
            tickMargin={0}
            tickLine={false}
            tick={LeftTick}
            axisLine={AXIS}
            allowDataOverflow
          />
          <YAxis
            yAxisId="right"
            orientation="right"
            width={218}
            domain={[0.01, 0.2]}
            ticks={pvEffTicks}
            interval={0}
            tickSize={0}
            tickMargin={0}
            tickLine={false}
            tick={rightTick(2)}
            axisLine={AXIS}
            allowDataOverflow
          />
        </ComposedChart>
      </div>

      {/* titles and legends */}
      <svg width={2011} height={3080} style={{ position: 'absolute', left: 0, top: 0, pointerEvents: 'none' }}>
        <text transform="translate(76 652) rotate(-90)" textAnchor="middle" fontSize={64} {...textStyle}>
          Solar radiation (kW)
        </text>
        <text transform="translate(1969 643) rotate(-90)" textAnchor="middle" fontSize={64} {...textStyle}>
          Thermal conversion efficiency
        </text>
        <text x={1030} y={1397} textAnchor="middle" fontSize={64} {...textStyle}>
          Time (h)
        </text>
        <text x={1003} y={1497} textAnchor="middle" fontSize={81} {...textStyle}>
          (<tspan fontWeight="bold">a</tspan>) Solar thermal utilization
        </text>
        <LegendSvg
          box={{ x: 1090, y: 56, w: 699, h: 177, rows: [86, 144, 201], lineX: [1095, 1203], textX: 1214 }}
          labels={['Thermal conversion efficiency', 'Solar radiation', 'Thermal output']}
        />

        <text transform="translate(66 2178) rotate(-90)" textAnchor="middle" fontSize={64} {...textStyle}>
          Solar radiation (kW)
        </text>
        <text transform="translate(1983 2176) rotate(-90)" textAnchor="middle" fontSize={64} {...textStyle}>
          Photovoltaic conversion efficiency
        </text>
        <text x={1028} y={2948} textAnchor="middle" fontSize={64} {...textStyle}>
          Time (h)
        </text>
        <text x={1000} y={3048} textAnchor="middle" fontSize={81} {...textStyle}>
          (<tspan fontWeight="bold">b</tspan>) Solar photovoltaic utilization
        </text>
        <LegendSvg
          box={{ x: 1001, y: 1570, w: 779, h: 183, rows: [1602, 1661, 1720], lineX: [1004, 1116], textX: 1125 }}
          labels={['Photovoltaic conversion efficiency', 'Solar radiation', 'Photovoltaic power production']}
        />
      </svg>
    </div>
  )
}
